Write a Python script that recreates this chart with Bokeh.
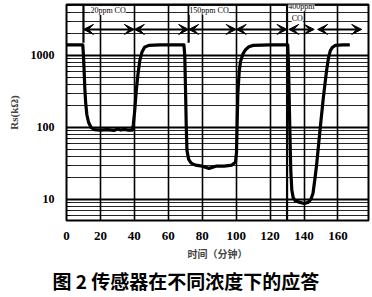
from bokeh.plotting import figure
from bokeh.models import Arrow, VeeHead, Label, FixedTicker, ColumnDataSource, Title
from bokeh.embed import file_html
from bokeh.resources import INLINE

# ---- data ----
time_min = [0, 9.6, 10.0, 10.4, 10.8, 11.3, 12.0, 13.0, 14.5, 16.5, 20, 24, 28, 30, 32, 34, 36,
            38.8, 39.4, 40.2, 41.0, 42.0, 43.2, 44.5, 46.0, 48.5, 55,
            69.2, 69.7, 70.2, 70.6, 71.0, 72.0, 73.5, 76, 80, 84, 88, 93, 97.5,
            99.6, 100.2, 100.6, 101.0, 101.8, 102.6, 104.0, 105.5, 107.5, 110, 120,
            130.4, 130.8, 131.2, 131.7, 132.2, 132.8, 133.6, 135.0, 137.6, 140.0, 142.4, 144.0,
            145.3, 146.5, 147.5, 149.4, 151.4, 153.3, 154.5, 155.5, 156.8, 158.5, 163, 167]
rs_kohm = [1400, 1400, 1000, 600, 350, 220, 150, 118, 100, 93, 92, 93, 91, 95, 92, 94, 92,
           92, 110, 170, 300, 520, 850, 1120, 1300, 1380, 1400,
           1400, 1000, 300, 100, 48, 36, 32, 30, 29, 27, 29, 29, 30,
           33, 45, 120, 300, 600, 830, 1050, 1200, 1320, 1380, 1400,
           1400, 800, 300, 80, 25, 13.5, 10.6, 9.5, 9.1, 8.8, 9.1, 10,
           12.2, 20, 31.6, 91, 261, 620, 950, 1170, 1300, 1380, 1400, 1400]

period_start = [10, 40, 72, 100, 131, 148]
period_end = [40, 72, 100, 130, 146, 174]
gas_labels = ["20ppm CO", "150ppm CO", "400ppm", "CO"]
gas_label_x = [24.5, 84, 138.5, 136]
gas_label_y = [4200, 4200, 4750, 3300]
boundary_times = [10, 72, 130]
x_ticks = [0, 20, 40, 60, 80, 100, 120, 140, 160]
y_ticks = [10, 100, 1000]
x_title = "时间（分钟）"
y_title = "Rs(kΩ)"
caption = "图 2  传感器在不同浓度下的应答"

p = figure(width=372, height=297, y_axis_type="log",
           x_range=(0, 178), y_range=(5.1, 5100),
           output_backend="svg", toolbar_location=None,
           min_border_left=66, min_border_right=4, min_border_top=4, min_border_bottom=77)
p.background_fill_color = "white"
p.border_fill_color = "white"
p.outline_line_color = "black"
p.outline_line_width = 2

# grid
p.xaxis.ticker = FixedTicker(ticks=x_ticks)
p.yaxis.ticker = FixedTicker(ticks=y_ticks,
                             minor_ticks=[m * d for d in (1, 10, 100, 1000) for m in range(2, 10)])
p.xgrid.grid_line_color = "black"
p.xgrid.grid_line_width = 1.6
p.ygrid.grid_line_color = "black"
p.ygrid.grid_line_width = 2.2
p.ygrid.minor_grid_line_color = "black"
p.ygrid.minor_grid_line_width = 1.2
p.ygrid.minor_grid_line_alpha = 0.85

# axes
for ax in (p.xaxis, p.yaxis):
    ax.axis_line_color = None
    ax.major_tick_out = 0
    ax.minor_tick_out = 0
    ax.major_label_text_font = "Liberation Serif"
    ax.major_label_text_font_style = "bold"
    ax.major_label_text_color = "black"
p.xaxis.major_tick_in = 0
p.xaxis.minor_tick_line_color = None
p.yaxis.major_tick_in = 6
p.yaxis.minor_tick_in = 4
p.yaxis.major_tick_line_color = "black"
p.yaxis.minor_tick_line_color = "black"
p.xaxis.major_label_text_font_size = "13px"
p.yaxis.major_label_text_font_size = "12px"
p.xaxis.major_label_standoff = 11
p.yaxis.major_label_standoff = 12
p.yaxis.major_label_overrides = {10: "10", 100: "100", 1000: "1000"}

p.xaxis.axis_label = x_title
p.xaxis.axis_label_text_font = "Noto Sans CJK SC"
p.xaxis.axis_label_text_font_style = "bold"
p.xaxis.axis_label_text_font_size = "10px"
p.xaxis.axis_label_standoff = 3
p.yaxis.axis_label = y_title
p.yaxis.axis_label_text_font = "Liberation Serif"
p.yaxis.axis_label_text_font_style = "bold"
p.yaxis.axis_label_text_font_size = "11px"
p.yaxis.axis_label_standoff = 8

# caption below the chart
p.add_layout(Title(text=caption, align="left", offset=-14, standoff=2,
                   text_font="Noto Sans CJK SC", text_font_style="bold", text_font_size="19px",
                   text_color="black", vertical_align="bottom"), "below")

# boundary lines of exposure periods
p.segment(x0=boundary_times, x1=boundary_times, y0=[1500, 1500, 5.1], y1=[5100] * 3,
          line_color="black", line_width=2.2)

# response curve
src = ColumnDataSource(dict(t=time_min, rs=rs_kohm))
p.line("t", "rs", source=src, line_color="black", line_width=3.2, line_join="round")

# arrows
arrow_y = 2300
for s, e in zip(period_start, period_end):
    p.add_layout(Arrow(x_start=s, x_end=e, y_start=arrow_y, y_end=arrow_y,
                       line_color="black", line_width=2,
                       start=VeeHead(size=10, fill_color="black", line_color="black"),
                       end=VeeHead(size=10, fill_color="black", line_color="black")))

for txt, x, y in zip(gas_labels, gas_label_x, gas_label_y):
    p.add_layout(Label(x=x, y=y, text=txt, text_font="Liberation Serif", text_font_size="8px",
                       text_align="center", text_baseline="middle", text_color="black",
                       background_fill_color="white"))

open("out.html", "w").write(file_html(p, INLINE))
